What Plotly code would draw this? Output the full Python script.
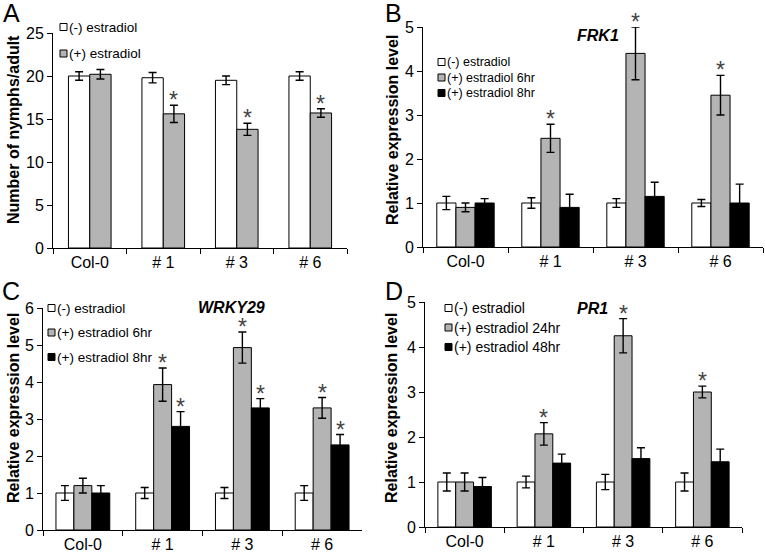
import plotly.graph_objects as go

W, H = 765, 557
FONT = "Arial, Liberation Sans, sans-serif"

cats = ["Col-0", "# 1", "# 3", "# 6"]

# ---------------- Panel A : nymphs per adult ----------------
a_minus = [20.0, 19.8, 19.5, 20.0]
a_minus_err = [0.5, 0.6, 0.5, 0.5]
a_plus = [20.2, 15.6, 13.8, 15.7]
a_plus_err = [0.55, 1.0, 0.7, 0.5]
a_plus_sig = [False, True, True, True]

# ---------------- Panel B : FRK1 ----------------
b_minus = [1.0, 1.0, 1.0, 1.0]
b_minus_err = [0.15, 0.12, 0.1, 0.08]
b_6hr = [0.9, 2.47, 4.4, 3.45]
b_6hr_err = [0.1, 0.32, 0.6, 0.45]
b_6hr_sig = [False, True, True, True]
b_8hr = [1.0, 0.9, 1.15, 1.0]
b_8hr_err = [0.1, 0.3, 0.32, 0.43]

# ---------------- Panel C : WRKY29 ----------------
c_minus = [1.0, 1.0, 1.0, 1.0]
c_minus_err = [0.2, 0.15, 0.15, 0.2]
c_6hr = [1.2, 3.93, 4.93, 3.3]
c_6hr_err = [0.2, 0.45, 0.42, 0.28]
c_6hr_sig = [False, True, True, True]
c_8hr = [1.0, 2.8, 3.3, 2.3]
c_8hr_err = [0.2, 0.4, 0.25, 0.28]
c_8hr_sig = [False, True, True, True]

# ---------------- Panel D : PR1 ----------------
d_minus = [1.0, 1.0, 1.0, 1.0]
d_minus_err = [0.2, 0.13, 0.17, 0.2]
d_24hr = [1.0, 2.07, 4.25, 3.0]
d_24hr_err = [0.2, 0.25, 0.38, 0.13]
d_24hr_sig = [False, True, True, True]
d_48hr = [0.9, 1.42, 1.52, 1.45]
d_48hr_err = [0.2, 0.2, 0.24, 0.28]

WHITE, GRAY, BLACK = "#ffffff", "#b4b4b4", "#000000"
NOSIG = [False] * 4


def px(x):
    return x / W


def py(y):
    return 1 - y / H


panels = [
    dict(ax="", letter="A", letter_pos=(11, 13),
         xdom=(53, 347), ydom=(248, 33), ymax=25, dtick=5,
         ytitle="Number of nymphs/adult", ytitle_pos=(13, 130),
         gene=None, gene_pos=None,
         leg_x=60, leg_rows=[27, 53.5], leg_font=13.5,
         width=0.29,
         series=[("(-) estradiol", a_minus, a_minus_err, NOSIG, WHITE),
                 ("(+) estradiol", a_plus, a_plus_err, a_plus_sig, GRAY)]),
    dict(ax="2", letter="B", letter_pos=(394, 13),
         xdom=(423, 763), ydom=(247, 27), ymax=5, dtick=1,
         ytitle="Relative expression level", ytitle_pos=(392, 130),
         gene="FRK1", gene_pos=(598, 35),
         leg_x=438, leg_rows=[62, 77.5, 93], leg_font=12.5,
         width=0.225,
         series=[("(-) estradiol", b_minus, b_minus_err, NOSIG, WHITE),
                 ("(+) estradiol 6hr", b_6hr, b_6hr_err, b_6hr_sig, GRAY),
                 ("(+) estradiol 8hr", b_8hr, b_8hr_err, NOSIG, BLACK)]),
    dict(ax="3", letter="C", letter_pos=(11, 291),
         xdom=(43, 362), ydom=(530, 308), ymax=6, dtick=1,
         ytitle="Relative expression level", ytitle_pos=(13, 408),
         gene="WRKY29", gene_pos=(232, 307),
         leg_x=48, leg_rows=[308, 332.5, 357], leg_font=13.5,
         width=0.225,
         series=[("(-) estradiol", c_minus, c_minus_err, NOSIG, WHITE),
                 ("(+) estradiol 6hr", c_6hr, c_6hr_err, c_6hr_sig, GRAY),
                 ("(+) estradiol 8hr", c_8hr, c_8hr_err, c_8hr_sig, BLACK)]),
    dict(ax="4", letter="D", letter_pos=(394, 291),
         xdom=(425, 742), ydom=(527, 302), ymax=5, dtick=1,
         ytitle="Relative expression level", ytitle_pos=(391, 408),
         gene="PR1", gene_pos=(592, 308),
         leg_x=445, leg_rows=[308, 327.5, 347], leg_font=14,
         width=0.225,
         series=[("(-) estradiol", d_minus, d_minus_err, NOSIG, WHITE),
                 ("(+) estradiol 24hr", d_24hr, d_24hr_err, d_24hr_sig, GRAY),
                 ("(+) estradiol 48hr", d_48hr, d_48hr_err, NOSIG, BLACK)]),
]

fig = go.Figure()
annotations = []
shapes = []
layout = dict(
    width=W, height=H,
    margin=dict(l=0, r=0, t=0, b=0, pad=0, autoexpand=False),
    paper_bgcolor="white", plot_bgcolor="white",
    barmode="overlay",
    showlegend=False,
    font=dict(family=FONT, color="black"),
)

SQ = 7  # legend swatch size (px)

for p in panels:
    ax = p["ax"]
    xname, yname = "x" + ax, "y" + ax
    n = len(p["series"])
    w = p["width"]
    for k, (name, vals, errs, sig, color) in enumerate(p["series"]):
        off = -n * w / 2 + k * w
        fig.add_trace(go.Bar(
            x=cats, y=vals, name=name,
            xaxis=xname, yaxis=yname,
            width=w, offset=off,
            marker=dict(color=color, line=dict(color="black", width=1)),
            error_y=dict(type="data", array=errs, visible=True,
                         color="black", thickness=1.4, width=4),
            showlegend=False,
            hoverinfo="skip",
        ))
        for i, s in enumerate(sig):
            if s:
                annotations.append(dict(
                    x=i + off + w / 2, y=vals[i] + errs[i],
                    xref=xname, yref=yname,
                    text="*", showarrow=False,
                    xanchor="center", yanchor="middle", yshift=5,
                    font=dict(size=23, color="#444444", family=FONT)))
        # legend entry: swatch + label
        ry = p["leg_rows"][k]
        lx = p["leg_x"]
        shapes.append(dict(
            type="rect", xref="paper", yref="paper",
            x0=px(lx), x1=px(lx + SQ),
            y0=py(ry + SQ / 2), y1=py(ry - SQ / 2),
            fillcolor=color, line=dict(color="black", width=1), layer="above"))
        annotations.append(dict(
            x=px(lx + SQ + 0.5), y=py(ry), xref="paper", yref="paper",
            text=name, showarrow=False, xanchor="left", yanchor="middle",
            borderpad=0,
            font=dict(size=p["leg_font"], family=FONT, color="black")))

    xk = "xaxis" + ax
    yk = "yaxis" + ax
    layout[xk] = dict(
        domain=[px(p["xdom"][0]), px(p["xdom"][1])],
        anchor=yname, type="category",
        categoryorder="array", categoryarray=cats,
        range=[-0.5, 3.5], automargin=False,
        showline=True, linecolor="black", linewidth=1,
        ticks="outside", tickson="boundaries", ticklen=5,
        tickcolor="black", tickwidth=1,
        tickfont=dict(size=16, family=FONT, color="black"),
        showgrid=False, zeroline=False, fixedrange=True,
    )
    layout[yk] = dict(
        domain=[py(p["ydom"][0]), py(p["ydom"][1])],
        anchor=xname, range=[0, p["ymax"]], dtick=p["dtick"],
        automargin=False,
        showline=True, linecolor="black", linewidth=1,
        ticks="outside", ticklen=5, tickcolor="black", tickwidth=1,
        tickfont=dict(size=16, family=FONT, color="black"),
        showgrid=False, zeroline=False, fixedrange=True,
    )
    # panel letter
    annotations.append(dict(
        x=px(p["letter_pos"][0]), y=py(p["letter_pos"][1]),
        xref="paper", yref="paper", text=p["letter"], showarrow=False,
        xanchor="center", yanchor="middle",
        font=dict(size=25, family=FONT, color="black")))
    # y axis title
    annotations.append(dict(
        x=px(p["ytitle_pos"][0]), y=py(p["ytitle_pos"][1]),
        xref="paper", yref="paper", text="<b>" + p["ytitle"] + "</b>",
        showarrow=False, textangle=-90,
        xanchor="center", yanchor="middle",
        font=dict(size=16, family=FONT, color="black")))
    if p["gene"]:
        annotations.append(dict(
            x=px(p["gene_pos"][0]), y=py(p["gene_pos"][1]),
            xref="paper", yref="paper", text="<b><i>" + p["gene"] + "</i></b>",
            showarrow=False, xanchor="center", yanchor="middle",
            font=dict(size=16, family=FONT, color="black")))

layout["annotations"] = annotations
layout["shapes"] = shapes
fig.update_layout(**layout)
fig.write_html(
    "out.html",
    post_script="document.body.style.margin='0';document.body.style.overflow='hidden';",
    config={"displayModeBar": False},
)
